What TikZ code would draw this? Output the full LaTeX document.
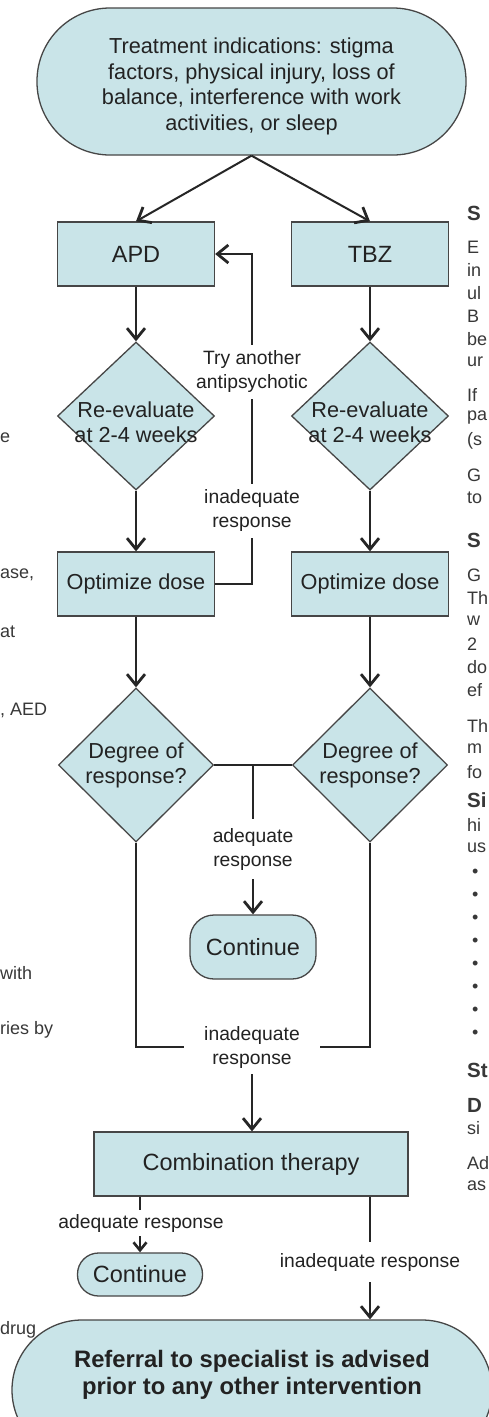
\documentclass[tikz,border=0pt]{standalone}
\usepackage{fontspec}
\setmainfont{Liberation Sans}
\usepackage{tikz}
\usetikzlibrary{shapes.geometric,arrows.meta}
\definecolor{boxfill}{RGB}{201,228,232}
\definecolor{boxline}{RGB}{70,70,70}
\definecolor{txt}{RGB}{34,34,34}

\begin{document}
\begin{tikzpicture}[x=1pt,y=-1pt,
    box/.style={draw=boxline,fill=boxfill,line width=1.3pt,minimum width=157pt,minimum height=64pt,
        inner sep=0pt,text=txt,font=\fontsize{21.7}{26}\selectfont},
    bigbox/.style={box,font=\fontsize{23.5}{28}\selectfont},
    decision/.style={diamond,draw=boxline,fill=boxfill,line width=1.3pt,inner sep=0pt,
        minimum width=157pt,minimum height=148pt},
    dtext/.style={align=center,text=txt,font=\fontsize{21.7}{25}\selectfont},
    term/.style={draw=boxline,fill=boxfill,line width=1.3pt,align=center,text=txt},
    lbl/.style={align=center,text=txt,inner sep=6pt,font=\fontsize{19.3}{24}\selectfont},
    flow/.style={line width=2pt,draw=black!85},
    arr/.style={flow,-{Straight Barb[length=11pt,width=18pt,line width=2.8pt]}},
    frag/.style={inner sep=0pt,text=txt!90,font=\fontsize{18}{22}\selectfont},
    fraghead/.style={frag,font=\fontsize{20.5}{24}\selectfont\bfseries}]
    \useasboundingbox (0,0) rectangle (488,1417);
    \fill[white] (0,0) rectangle (488,1417);

    % start
    \node[term,minimum width=429pt,minimum height=147pt,rounded corners=73pt,
        label={[dtext,yshift=-5pt,font=\fontsize{21.7}{25.7}\selectfont]center:Treatment indications: stigma\\factors, physical injury, loss of\\balance, interference with work\\activities, or sleep}]
        (indic) at (251.5,81.5) {};

    % two branches
    \node[bigbox] (apd) at (136,254) {APD};
    \node[bigbox] (tbz) at (370,254) {TBZ};
    \node[decision,label={[dtext,yshift=-6pt]center:Re-evaluate\\at 2-4 weeks}] (rev1) at (136,416) {};
    \node[decision,label={[dtext,yshift=-6pt]center:Re-evaluate\\at 2-4 weeks}] (rev2) at (370,416) {};
    \node[box] (opt1) at (136,584) {Optimize dose};
    \node[box] (opt2) at (370,584) {Optimize dose};
    \node[decision,minimum width=155pt,minimum height=154pt,
        label={[dtext]center:Degree of\\response?}] (dor1) at (136,765) {};
    \node[decision,minimum width=155pt,minimum height=154pt,
        label={[dtext]center:Degree of\\response?}] (dor2) at (370,765) {};

    % edge labels
    \node[lbl] (try) at (252,372) {Try another\\antipsychotic};
    \node[lbl] (inad1) at (252,511) {inadequate\\response};
    \node[lbl,inner sep=9pt] (adeq1) at (253,849) {adequate\\response};
    \node[lbl,inner xsep=20pt] (inad2) at (252,1047) {inadequate\\response};
    \node[lbl,inner ysep=4pt] (adeq2) at (141,1223) {adequate response};
    \node[lbl,inner ysep=11pt] (inad3) at (370,1262) {inadequate response};

    % outcomes
    \node[bigbox,minimum width=126pt,rounded corners=24pt] (cont1) at (253,947) {Continue};
    \node[bigbox,minimum width=314pt] (combo) at (251,1164) {Combination therapy};
    \node[bigbox,minimum width=125pt,minimum height=43pt,rounded corners=21pt] (cont2) at (140,1274.5) {Continue};
    \node[term,minimum width=480pt,minimum height=140pt,rounded corners=70pt,text depth=36pt,
        font=\fontsize{23.8}{27}\selectfont\bfseries] (refer) at (252,1390)
        {Referral to specialist is advised\\prior to any other intervention};

    % connectors
    \draw[arr] (indic.south) -- (apd.north);
    \draw[arr] (indic.south) -- (tbz.north);
    \draw[arr] (apd) -- (rev1);
    \draw[arr] (tbz) -- (rev2);
    \draw[arr] (rev1) -- (opt1);
    \draw[arr] (rev2) -- (opt2);
    \draw[arr] (opt1) -- (dor1);
    \draw[arr] (opt2) -- (dor2);

    \draw[flow] (opt1.east) -| (inad1.south);
    \draw[flow] (inad1.north) -- (try.south);
    \draw[arr] (try.north) |- (apd.east);

    \draw[flow] (dor1.east) -- (dor2.west);
    \draw[flow] (adeq1.north |- dor1.east) -- (adeq1.north);
    \draw[arr] (adeq1.south) -- (cont1.north);
    \draw[flow] (dor1.south) |- (inad2.west);
    \draw[flow] (dor2.south) |- (inad2.east);
    \draw[arr] (inad2.south) -- (inad2.south |- combo.north);

    \draw[flow] (cont2.north |- combo.south) -- (cont2.north |- adeq2.north);
    \draw[flow,-{Straight Barb[length=8pt,width=13pt,line width=2.6pt]}] (cont2.north |- adeq2.south) -- (cont2.north);
    \draw[flow] (inad3.north |- combo.south) -- (inad3.north);
    \draw[arr] (inad3.south) -- (inad3.south |- refer.north);

    % text of the neighbouring columns
    \foreach \y/\t [count=\i] in {438/e, 575/{ase,}, 632/at, 710/{, AED}, 973/with, 1030/ries by, 1330/drug}
        \node[frag,anchor=west] (lf\i) at (0,\y) {\t};
    \foreach \y/\t [count=\i] in {213/S, 540/S, 800/Si, 1070/St, 1105/D}
        \node[fraghead,anchor=west] (rh\i) at (467,\y) {\t};
    \foreach \y/\t [count=\i] in {247/E, 270/in, 293/ul, 316/B, 339/be, 362/ur, 395/If, 418/pa, 441/{(s},
        475/G, 498/to, 575/G, 598/Th, 621/w, 644/2, 667/do, 690/ef, 726/Th, 749/m, 772/fo,
        825/hi, 848/us, 1128/si, 1163/Ad, 1186/as}
        \node[frag,anchor=west] (rf\i) at (467,\y) {\t};
    \foreach \y [count=\i] in {873,896,919,942,965,988,1011,1034}
        \node[frag,anchor=west] (bul\i) at (472,\y) {\textbullet};
\end{tikzpicture}
\end{document}
